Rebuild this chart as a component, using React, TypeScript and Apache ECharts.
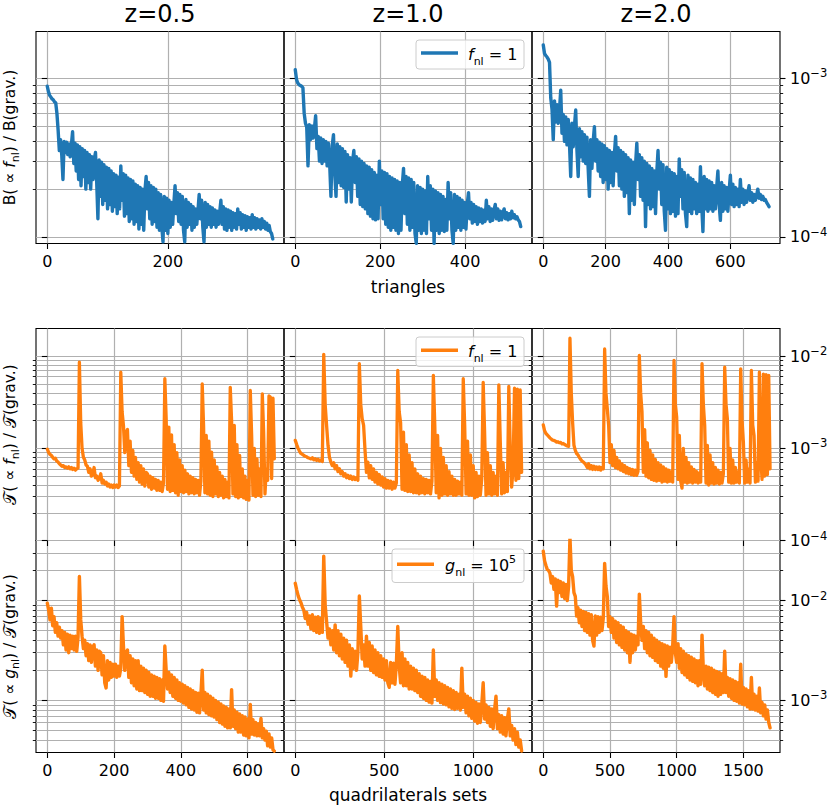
import React, { useEffect, useRef } from "react";
import * as echarts from "echarts";

const FONT = "DejaVu Sans";
const COLUMN_TITLES = ["z=0.5", "z=1.0", "z=2.0"];

// All ratios below are in units of 1e-4 (UNIT_EXP).
const UNIT_EXP = -4;

// Triangles (top row): one value every TRI_STEP[c] triangles
const TRI_STEP = [2, 3, 4];
const B_FNL_Z05 = [
  8.9, 8.2, 7.8, 7.6, 7.4, 7.3, 7.1, 7.0, 6.0, 4.7,
  3.5, 4.1, 3.3, 2.3, 4.0, 3.4, 3.95, 3.3, 3.85, 3.2,
  3.8, 4.6, 2.9, 3.9, 2.6, 3.8, 2.3, 3.7, 2.1, 3.6,
  2.4, 3.5, 2.0, 3.4, 2.2, 3.3, 2.0, 3.2, 2.3, 3.1,
  3.4, 2.2, 1.3, 3.05, 1.8, 2.95, 1.6, 2.85, 1.7, 2.75,
  1.5, 2.7, 1.6, 2.6, 1.45, 2.5, 1.55, 2.45, 1.4, 2.38,
  1.5, 2.8, 1.7, 2.5, 1.35, 2.45, 1.4, 2.35, 1.25, 2.3,
  1.3, 2.25, 1.2, 2.15, 1.25, 2.1, 1.12, 2.05, 1.2, 2.0,
  1.1, 1.95, 2.4, 1.5, 2.2, 1.3, 2.1, 1.2, 2.05, 1.25,
  2.0, 1.15, 1.9, 1.1, 1.85, 1.15, 0.93, 1.8, 1.1, 1.75,
  1.05, 1.7, 1.15, 1.65, 1.2, 1.62, 2.1, 1.4, 1.9, 1.25,
  1.85, 1.2, 1.8, 1.1, 0.93, 1.72, 1.15, 1.65, 1.2, 1.6,
  1.1, 1.55, 1.15, 1.5, 1.2, 1.47, 1.85, 1.3, 1.7, 1.15,
  0.93, 1.65, 1.15, 1.6, 1.2, 1.55, 1.15, 1.52, 1.2, 1.48,
  1.15, 1.45, 1.2, 1.42, 1.7, 1.2, 1.55, 1.12, 1.5, 1.1,
  1.48, 1.15, 1.45, 1.1, 1.42, 1.15, 1.4, 1.12, 1.5, 1.2,
  1.42, 1.12, 1.38, 1.15, 1.36, 1.1, 1.34, 1.15, 1.32, 1.12,
  1.38, 1.15, 1.32, 1.12, 1.3, 1.15, 1.28, 1.12, 1.3, 1.15,
  1.25, 1.12, 1.22, 1.1, 1.18, 1.08, 1.05, 0.97,
];
const B_FNL_Z10 = [
  11.3, 9.8, 9.3, 9.1, 9.0, 8.9, 8.7, 6.0, 5.2, 4.9,
  2.8, 5.1, 4.1, 5.0, 4.2, 4.8, 5.8, 3.6, 4.3, 3.0,
  4.2, 2.9, 4.1, 3.0, 4.0, 2.8, 3.9, 2.9, 1.8, 3.75,
  4.4, 2.5, 1.8, 3.85, 2.2, 3.7, 2.1, 3.6, 2.05, 3.45,
  1.66, 3.3, 2.0, 3.15, 1.66, 3.0, 3.5, 2.2, 3.2, 1.8,
  3.1, 1.6, 3.0, 1.55, 2.9, 1.5, 2.8, 1.4, 2.75, 1.35,
  2.65, 1.3, 2.55, 1.28, 2.45, 1.3, 3.0, 1.6, 2.6, 1.3,
  2.55, 1.2, 2.5, 1.15, 2.4, 1.1, 2.35, 1.15, 2.3, 1.1,
  2.25, 1.05, 2.2, 1.1, 2.1, 2.7, 1.4, 2.4, 1.2, 2.35,
  1.1, 2.3, 1.15, 2.2, 1.05, 0.91, 2.1, 1.1, 2.05, 1.05,
  2.0, 1.1, 1.95, 1.05, 2.4, 1.3, 2.1, 1.1, 2.0, 0.91,
  1.95, 1.1, 1.9, 1.05, 1.85, 1.1, 1.8, 1.08, 1.72, 1.1,
  2.2, 1.3, 1.9, 1.1, 0.91, 1.85, 1.1, 1.8, 1.15, 1.75,
  1.1, 1.7, 1.15, 1.65, 1.12, 1.6, 1.9, 1.3, 1.65, 1.22,
  1.6, 1.25, 1.55, 1.2, 1.52, 1.25, 1.5, 1.22, 1.47, 1.25,
  1.7, 1.3, 1.55, 1.25, 1.5, 1.27, 1.47, 1.6, 1.3, 1.5,
  1.27, 1.45, 1.28, 1.42, 1.5, 1.3, 1.42, 1.28, 1.4, 1.3,
  1.45, 1.32, 1.38, 1.3, 1.34, 1.28, 1.25, 1.16,
];
const B_FNL_Z20 = [
  16.2, 14.3, 13.9, 13.6, 13.2, 12.6, 7.5, 6.4, 4.1, 7.2,
  5.3, 6.8, 5.2, 6.3, 8.4, 4.5, 5.9, 4.0, 5.7, 3.8,
  5.5, 3.9, 2.4, 5.2, 3.7, 5.0, 6.3, 3.5, 2.4, 4.8,
  3.2, 4.6, 3.0, 4.4, 2.9, 4.25, 2.7, 1.8, 4.1, 2.7,
  4.0, 4.95, 3.0, 4.1, 2.6, 3.95, 2.4, 3.85, 2.2, 3.75,
  2.3, 3.6, 2.0, 3.5, 2.2, 3.4, 2.1, 3.3, 4.3, 2.6,
  3.65, 2.1, 3.5, 2.0, 3.4, 1.8, 3.3, 1.9, 3.15, 1.4,
  3.05, 1.7, 2.95, 1.6, 2.85, 3.9, 2.3, 3.3, 1.8, 3.15,
  1.7, 3.0, 1.16, 2.9, 1.6, 2.8, 1.5, 2.7, 1.55, 2.6,
  1.4, 2.55, 3.5, 2.0, 2.95, 1.6, 2.85, 1.45, 1.1, 2.75,
  1.5, 2.65, 1.4, 2.55, 1.45, 2.5, 1.35, 2.4, 1.4, 3.1,
  1.8, 2.65, 1.5, 2.55, 1.4, 1.16, 2.45, 1.45, 2.35, 1.4,
  2.3, 1.5, 2.2, 1.4, 2.15, 1.45, 2.77, 1.6, 1.08, 2.4,
  1.5, 2.3, 1.45, 2.25, 1.5, 2.2, 1.45, 2.1, 1.5, 2.05,
  2.6, 1.6, 1.27, 2.2, 1.45, 2.1, 1.5, 2.05, 1.45, 1.95,
  2.45, 1.6, 2.15, 1.55, 2.05, 1.6, 2.0, 1.55, 2.3, 1.65,
  2.0, 1.6, 1.95, 1.65, 1.9, 2.1, 1.7, 1.9, 1.65, 1.85,
  1.7, 1.82, 2.0, 1.75, 1.85, 1.72, 1.8, 1.7, 1.72, 1.65,
  1.6, 1.55,
];

// Quadrilateral sets, f_nl (middle row): one value every FNL_QUAD_STEP[c] sets
const FNL_QUAD_STEP = [4, 8, 10];
const T_FNL_Z05 = [
  9.8, 9.0, 8.6, 8.4, 8.0, 7.7, 7.8, 7.3, 7.1, 6.8,
  6.6, 6.4, 6.5, 6.2, 6.3, 6.1, 6.3, 6.0, 6.2, 5.9,
  6.1, 5.8, 6.0, 6.1, 86, 19, 10, 8.0, 7.5, 6.6,
  6.4, 5.5, 6.0, 5.0, 5.3, 6.2, 4.8, 5.0, 4.5, 4.7,
  5.3, 4.2, 4.5, 4.1, 4.3, 3.9, 4.1, 3.8, 4.0, 3.75,
  4.0, 3.8, 4.0, 3.75, 3.9, 67, 25, 17.8, 9, 15,
  16, 6.5, 12, 5.5, 9.5, 5.0, 8.0, 4.6, 7.0, 4.3,
  6.5, 4.1, 6.0, 3.9, 5.5, 5.3, 3.8, 5.0, 3.6, 4.8,
  3.7, 4.6, 3.5, 4.5, 3.5, 4.3, 3.4, 4.2, 57, 21,
  3.6, 17, 3.4, 14, 3.5, 11, 3.3, 9, 3.1, 7.5,
  3.4, 6.5, 3.3, 5.8, 3.4, 5.3, 3.2, 5.0, 3.3, 4.8,
  3.2, 4.6, 3.3, 4.5, 3.1, 4.4, 50, 17.8, 3.3, 13.8,
  3.2, 12, 3.1, 9.1, 3.0, 7.5, 3.2, 6.3, 3.0, 5.5,
  3.1, 5.0, 2.9, 4.6, 3.0, 4.3, 2.9, 46, 20, 3.2,
  17.8, 3.0, 11, 2.9, 8.4, 3.0, 6.0, 2.9, 5.0, 2.8,
  4.5, 2.75, 42.5, 14, 3.1, 10, 3.0, 7.7, 3.1, 6.0,
  3.0, 39, 15, 3.2, 6, 4.5, 37, 36, 4.7, 35,
  7.7,
];
const T_FNL_Z10 = [
  12.2, 11, 10, 9.3, 8.8, 8.6, 8.4, 8.2, 8.1, 7.9,
  7.8, 7.7, 7.9, 7.5, 7.7, 7.4, 7.6, 7.3, 7.5, 7.2,
  105, 30, 17.8, 10.8, 8.0, 7.1, 6.5, 7.0, 6.0, 6.5,
  5.6, 6.0, 5.3, 5.6, 5.0, 5.3, 4.8, 5.1, 4.7, 5.0,
  4.6, 4.9, 4.6, 4.8, 4.5, 83, 30, 21, 17.8, 9.5,
  5.5, 7.1, 4.8, 6.5, 4.6, 6.0, 4.3, 5.5, 4.1, 5.2,
  4.0, 4.9, 3.8, 4.7, 3.7, 4.5, 3.7, 4.4, 3.6, 4.3,
  3.7, 4.2, 70, 25, 19, 3.6, 15, 3.5, 11, 3.4,
  8.5, 3.4, 7.0, 3.3, 6.0, 3.3, 5.3, 3.2, 5.0, 3.3,
  4.7, 3.2, 4.6, 3.3, 4.5, 3.2, 4.4, 62, 17.8, 3.3,
  13.8, 2.9, 10, 3.1, 8, 3.2, 6.5, 3.1, 5.6, 3.2,
  5.0, 3.1, 4.6, 3.1, 4.4, 3.2, 4.3, 3.1, 57, 17.8,
  3.2, 12, 3.1, 8.5, 3.1, 6.5, 2.9, 5.5, 3.0, 5.0,
  3.1, 4.7, 52, 15, 3.1, 9, 3.2, 6.5, 3.1, 5.5,
  3.2, 5.0, 3.1, 49, 12, 3.2, 7, 3.3, 5.5, 3.4,
  47, 10, 3.8, 6, 45, 4.5, 44, 4.7, 43, 5.5,
];
const T_FNL_Z20 = [
  18, 15.5, 14.5, 14, 13.5, 13.0, 12.6, 12.3, 12.2, 12,
  11.7, 11.8, 11.5, 11.6, 11.2, 11.3, 11.0, 10.8, 10.6, 10.5,
  157, 40, 19, 10.8, 9.5, 8.8, 8.5, 8.0, 7.6, 7.3,
  7.1, 6.9, 6.6, 6.2, 6.8, 6.0, 6.5, 5.9, 6.4, 5.9,
  6.3, 5.9, 6.3, 5.8, 6.2, 6.0, 120, 40, 27, 17.8,
  7.0, 11, 6.5, 9.5, 6.2, 8.0, 6.0, 7.3, 5.8, 6.8,
  5.6, 6.5, 5.4, 6.2, 5.3, 6.0, 5.2, 5.9, 5.1, 5.8,
  5.1, 5.6, 102, 40, 25, 5.5, 16, 5.0, 11.5, 4.8,
  9.5, 4.6, 8.5, 4.5, 7.6, 4.4, 7.0, 4.5, 6.6, 4.3,
  6.3, 4.4, 6.0, 4.3, 5.8, 4.4, 5.6, 4.3, 90, 30,
  22, 4.6, 13.8, 4.4, 3.7, 10, 4.3, 8, 4.2, 7,
  4.3, 6.3, 4.2, 5.9, 4.3, 5.6, 4.2, 5.4, 4.3, 83,
  30, 17.8, 4.2, 10.8, 4.0, 8.5, 4.2, 7, 4.1, 6.2,
  4.2, 5.8, 4.1, 5.5, 4.2, 5.3, 76, 30, 21, 4.3,
  10, 4.2, 7.5, 4.2, 6.2, 4.3, 5.6, 4.2, 73, 20,
  11.7, 4.2, 7.5, 4.3, 6.0, 4.2, 70, 18, 13.8, 4.3,
  7, 4.4, 67, 8, 4.6, 64, 5.0, 63, 5.2, 62,
  6.0,
];

// Quadrilateral sets, g_nl (bottom row): one value every GNL_QUAD_STEP[c] sets
const GNL_QUAD_STEP = [4, 8, 10];
const T_GNL_Z05 = [
  94, 80, 64, 84, 56, 69, 48, 60, 44, 54,
  42, 50, 36, 48, 32, 46, 30, 45, 33, 44,
  32, 44, 31, 43, 174, 64, 44, 33, 40, 28,
  37, 25, 36, 24, 34, 36, 22, 32, 20, 31,
  30, 18, 28, 15, 13.3, 25, 16, 24, 17, 23,
  17.5, 23, 17, 22, 17.5, 21, 69, 35, 20, 30,
  32, 17, 28, 15, 26, 14, 25, 13, 25, 12.5,
  22, 12.5, 21, 12, 20, 11.5, 19, 11, 18, 11,
  17.5, 10.5, 17, 10.5, 16.5, 10, 16, 9.8, 35, 20,
  13, 19, 12, 18, 11, 17, 10.5, 16, 10, 15,
  9.8, 14.5, 9.4, 14, 9, 13.5, 8.5, 13, 8.2, 12.5,
  8.0, 12, 7.6, 11.8, 7.5, 11.5, 20, 8.0, 12, 7.5,
  11.5, 7.2, 11, 7.0, 10.5, 6.8, 10, 6.4, 9.6, 6.0,
  9.2, 5.8, 8.8, 5.5, 8.5, 5.3, 8.2, 5.3, 12.8, 5.5,
  8.0, 5.2, 7.6, 4.8, 7.3, 4.8, 7.0, 4.5, 6.8, 4.4,
  6.5, 4.2, 9.1, 4.6, 6.4, 4.5, 6.0, 4.4, 5.8, 4.4,
  6.6, 4.2, 5.2, 4.0, 4.9, 3.5, 4.6, 3.4, 4.2, 3.2,
  3.1,
];
const T_GNL_Z10 = [
  149, 128, 112, 102, 95, 86, 80, 66, 76, 58,
  70, 52, 72, 50, 68, 48, 69, 47, 66, 48,
  279, 90, 62, 42, 52, 36, 50, 32, 57, 30,
  50, 28, 46, 26, 42, 24, 40, 22, 36, 17.5,
  33, 21, 31, 20, 30, 111, 55, 26, 36, 22,
  44, 22, 38, 20, 35, 19, 32, 18, 30, 17.4,
  28, 17, 26, 16, 25, 15, 13.5, 24, 15, 23.5,
  14.5, 23, 55, 22, 15, 30, 14, 26, 14, 24,
  13, 22, 13, 21, 12.5, 20, 12, 18.5, 11, 17.5,
  10.5, 17, 10, 16, 9.6, 15.5, 9.4, 32, 11, 16,
  10, 15, 9.5, 14.5, 9.2, 14, 9, 13.5, 8.6, 13,
  8.3, 12.5, 8.1, 12, 8.3, 11.5, 8, 21, 8.5, 11.5,
  7.5, 11, 7, 10.5, 6.6, 10, 6.2, 9.5, 5.9, 9.2,
  6.0, 9, 15, 6.5, 9, 6, 8.5, 5.5, 8.2, 5.2,
  8, 11, 5.2, 7.2, 4.8, 7, 4.6, 6.7, 4.4, 6.5,
  8.2, 4.4, 5.6, 4.0, 5.2, 3.6, 4.8, 3.4, 4.0, 3.1,
];
const T_GNL_Z20 = [
  312, 250, 225, 205, 200, 188, 150, 174, 130, 165,
  88, 160, 120, 155, 110, 150, 105, 145, 100, 140,
  430, 200, 174, 120, 110, 70, 85, 60, 80, 55,
  78, 50, 76, 48, 74, 45, 72, 40, 35, 70,
  45, 69, 48, 68, 50, 67, 236, 140, 110, 55,
  69, 48, 66, 42, 62, 38, 60, 36, 56, 34,
  54, 32, 50, 30, 48, 24, 46, 30, 45, 32,
  44, 36, 116, 60, 40, 55, 33, 50, 30, 48,
  28, 45, 27, 42, 25, 40, 24, 38, 22, 37,
  21, 36, 17.4, 35, 22, 34, 24, 35, 69, 30,
  24, 37, 21, 33, 19, 31, 18, 29, 17, 28,
  16, 27, 15.5, 26, 15, 25, 14, 25, 14.5, 45,
  20, 14, 22, 13, 21.5, 12.5, 21, 12, 20, 11.5,
  19.5, 11, 19, 11.5, 18.5, 12, 31, 12, 17, 11,
  16.5, 10.5, 16, 10, 15.5, 9.8, 15, 9.4, 23, 9.2,
  13.5, 9.0, 13, 8.6, 12.5, 8.2, 17, 8.2, 11.5, 8.0,
  11, 7.8, 13.3, 7.5, 9.5, 7.0, 9, 6.5, 8, 6.0,
  5.3,
];

// Axes
const TRI_XTICKS = [[0, 200], [0, 200, 400], [0, 200, 400, 600]];
const QUAD_XTICKS = [[0, 200, 400, 600], [0, 500, 1000], [0, 500, 1000, 1500]];
const TRI_XLIM = [[-18.7, 392.7], [-26.55, 557.55], [-36.15, 759.15]];
const QUAD_XLIM = [[-34, 709], [-63.35, 1330.35], [-84.5, 1774.5]];
const ROW_YLIM = [[9.08e-5, 1.97e-3], [1e-4, 2e-2], [3e-4, 4e-2]];
const DECADES = [-4, -3, -2];
const MINOR_MULT = [2, 3, 4, 5, 6, 7, 8, 9];
const SERIES_COLORS = ["#1f77b4", "#ff7f0e", "#ff7f0e"];

// Layout (pixels)
const COL_LEFT = [36, 284, 532];
const COL_W = 248;
const ROW_TOP = [31.5, 328.5, 540.5];
const ROW_H = 212;

const GRID_LINE = { color: "#b0b0b0", width: 1.2 };
const TICK_LINE = { color: "#000", width: 1.1 };
const ROW_LINE_W = [3.4, 3.3, 3.4];
const LEGEND_LINE_W = 3.3;

function buildOption() {
  const data = [
    [B_FNL_Z05, B_FNL_Z10, B_FNL_Z20],
    [T_FNL_Z05, T_FNL_Z10, T_FNL_Z20],
    [T_GNL_Z05, T_GNL_Z10, T_GNL_Z20],
  ];
  const steps = [TRI_STEP, FNL_QUAD_STEP, GNL_QUAD_STEP];
  const grid: any[] = [];
  const xAxis: any[] = [];
  const yAxis: any[] = [];
  const series: any[] = [];
  for (let r = 0; r < 3; r++) {
    for (let c = 0; c < 3; c++) {
      const p = r * 3 + c;
      const ylo = Math.log10(ROW_YLIM[r][0]);
      const yhi = Math.log10(ROW_YLIM[r][1]);
      const majors = DECADES.filter((d) => d >= ylo - 1e-6 && d <= yhi + 1e-6);
      const minors: number[] = [];
      DECADES.forEach((d) =>
        MINOR_MULT.forEach((m) => {
          const v = d + Math.log10(m);
          if (v > ylo + 2e-3 && v < yhi - 2e-3) minors.push(v);
        })
      );
      grid.push({
        left: COL_LEFT[c],
        top: ROW_TOP[r],
        width: COL_W,
        height: ROW_H,
        show: true,
        borderColor: "#000",
        borderWidth: 1.1,
        backgroundColor: "transparent",
      });
      const xl = r === 0 ? TRI_XLIM[c] : QUAD_XLIM[c];
      const xt = r === 0 ? TRI_XTICKS[c] : QUAD_XTICKS[c];
      xAxis.push({
        gridIndex: p,
        type: "value",
        min: xl[0],
        max: xl[1],
        position: "bottom",
        axisLine: { show: false },
        axisTick: { show: true, customValues: xt, length: 5.5, lineStyle: TICK_LINE },
        axisLabel: {
          show: r !== 1,
          customValues: xt,
          formatter: (v: number) => String(v),
          fontSize: 16,
          color: "#000",
          margin: 10,
          fontFamily: FONT,
        },
        splitLine: { show: true, lineStyle: GRID_LINE },
      });
      const base = {
        gridIndex: p,
        type: "value",
        min: ylo,
        max: yhi,
        axisLine: { show: false },
        axisLabel: { show: false },
        splitLine: { show: false },
      };
      const majorIdx = yAxis.length;
      yAxis.push({
        ...base,
        position: "left",
        axisTick: { show: true, customValues: majors, length: 5.5, lineStyle: TICK_LINE },
        splitLine: { show: true, lineStyle: GRID_LINE },
      });
      yAxis.push({
        ...base,
        position: "left",
        axisTick: { show: true, customValues: minors, length: 3.2, lineStyle: { color: "#000", width: 0.9 } },
        splitLine: { show: true, lineStyle: GRID_LINE },
      });
      if (c === 2) {
        yAxis.push({
          ...base,
          position: "right",
          axisTick: { show: true, customValues: majors, length: 5.5, lineStyle: TICK_LINE },
          axisLabel: {
            show: true,
            customValues: majors,
            formatter: (v: number) => `{b|10}{e|−${Math.round(-v)}}`,
            margin: 10,
            rich: {
              b: { fontSize: 16, fontFamily: FONT, color: "#000", lineHeight: 22 },
              e: { fontSize: 11.5, fontFamily: FONT, color: "#000", lineHeight: 13, verticalAlign: "top" },
            },
          },
        });
        yAxis.push({
          ...base,
          position: "right",
          axisTick: { show: true, customValues: minors, length: 3.2, lineStyle: { color: "#000", width: 0.9 } },
        });
      }
      const step = steps[r][c];
      series.push({
        type: "line",
        xAxisIndex: p,
        yAxisIndex: majorIdx,
        data: data[r][c].map((v, i) => [i * step, Math.log10(v) + UNIT_EXP]),
        symbol: "none",
        showSymbol: false,
        clip: true,
        silent: true,
        z: 3,
        lineStyle: { color: SERIES_COLORS[r], width: ROW_LINE_W[r], join: "round", cap: "round" },
        itemStyle: { color: SERIES_COLORS[r] },
      });
    }
  }

  const richBase = {
    n: { fontSize: 15.5, fontFamily: FONT, lineHeight: 22 },
    c: { fontSize: 16.5, fontFamily: FONT, lineHeight: 22 },
    i: { fontSize: 15.5, fontFamily: FONT, fontStyle: "italic", lineHeight: 22 },
    s: { fontSize: 11, fontFamily: FONT, lineHeight: 13, verticalAlign: "bottom" },
  };
  const legendRich = {
    n: { fontSize: 16, fontFamily: FONT, lineHeight: 24 },
    i: { fontSize: 16, fontFamily: FONT, fontStyle: "italic", lineHeight: 24 },
    s: { fontSize: 11, fontFamily: FONT, lineHeight: 14, verticalAlign: "bottom" },
    p: { fontSize: 11, fontFamily: FONT, lineHeight: 14, verticalAlign: "top" },
  };
  const rowMid = (r: number) => ROW_TOP[r] + ROW_H / 2;
  const graphic: any[] = [];
  COLUMN_TITLES.forEach((t, c) =>
    graphic.push({
      type: "text",
      x: COL_LEFT[c] + COL_W / 2,
      y: 14,
      style: { text: t, fontSize: 24, fontFamily: FONT, fill: "#000", align: "center", verticalAlign: "middle" },
    })
  );
  graphic.push({
    type: "text",
    x: COL_LEFT[1] + COL_W / 2,
    y: 287,
    style: { text: "triangles", fontSize: 17, fontFamily: FONT, fill: "#000", align: "center", verticalAlign: "middle" },
  });
  graphic.push({
    type: "text",
    x: COL_LEFT[1] + COL_W / 2,
    y: 795,
    style: { text: "quadrilaterals sets", fontSize: 17, fontFamily: FONT, fill: "#000", align: "center", verticalAlign: "middle" },
  });
  const yLabels = [
    "{n|B( ∝ }{i|f}{s|nl}{n|) / B(grav.)}",
    "{c|𝒯}{n|( ∝ }{i|f}{s|nl}{n|) / }{c|𝒯}{n|(grav.)}",
    "{c|𝒯}{n|( ∝ }{i|g}{s|nl}{n|) / }{c|𝒯}{n|(grav.)}",
  ];
  yLabels.forEach((t, r) =>
    graphic.push({
      type: "text",
      x: 10,
      y: rowMid(r),
      rotation: Math.PI / 2,
      style: { text: t, rich: richBase, fill: "#000", align: "center", verticalAlign: "middle" },
    })
  );
  // legends
  const legends = [
    { x: 416, y: 40, w: 108, h: 29, lx: 421, lx2: 458, tx: 468, color: SERIES_COLORS[0], text: "{i|f}{s|nl}{n| = 1}" },
    { x: 416, y: 337, w: 108, h: 29.5, lx: 421, lx2: 458, tx: 468, color: SERIES_COLORS[1], text: "{i|f}{s|nl}{n| = 1}" },
    { x: 392, y: 549, w: 132, h: 33.5, lx: 397, lx2: 434, tx: 445, color: SERIES_COLORS[2], text: "{i|g}{s|nl}{n| = 10}{p|5}" },
  ];
  legends.forEach((l) => {
    const cy = l.y + l.h / 2;
    graphic.push({
      type: "rect",
      z: 20,
      shape: { x: l.x, y: l.y, width: l.w, height: l.h, r: 3 },
      style: { fill: "rgba(255,255,255,0.8)", stroke: "#cccccc", lineWidth: 1 },
    });
    graphic.push({
      type: "line",
      z: 21,
      shape: { x1: l.lx, y1: cy - 1.5, x2: l.lx2, y2: cy - 1.5 },
      style: { stroke: l.color, lineWidth: LEGEND_LINE_W },
    });
    graphic.push({
      type: "text",
      z: 21,
      x: l.tx,
      y: cy,
      style: { text: l.text, rich: legendRich, fill: "#000", align: "left", verticalAlign: "middle" },
    });
  });

  return {
    animation: false,
    backgroundColor: "#fff",
    textStyle: { fontFamily: FONT },
    grid,
    xAxis,
    yAxis,
    series,
    graphic,
  };
}

export default function App() {
  const ref = useRef<HTMLDivElement>(null);
  useEffect(() => {
    document.body.style.margin = "0";
    const chart = echarts.init(ref.current as HTMLDivElement, null, { renderer: "svg", width: 834, height: 806 });
    chart.setOption(buildOption() as any);
    return () => chart.dispose();
  }, []);
  return <div ref={ref} style={{ width: 834, height: 806 }} />;
}
